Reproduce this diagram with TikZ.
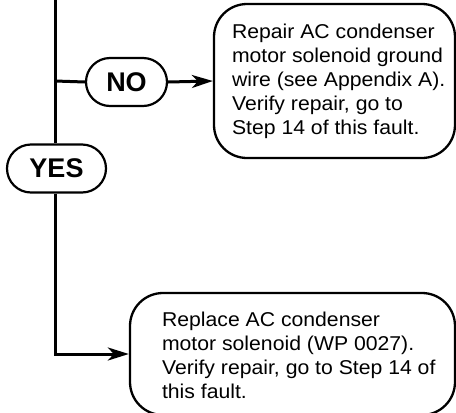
\documentclass[tikz,border=0pt]{standalone}
\usepackage{fontspec}
\setmainfont{Liberation Sans}
\newfontfamily\stepfont[FakeStretch=1.06]{Liberation Sans}
\usetikzlibrary{arrows.meta}
\tikzset{
  pill/.style={draw, line width=2.2pt, rounded corners=24pt, minimum height=48pt, inner sep=0pt, font=\fontsize{27}{30}\selectfont\bfseries},
  stepbox/.style={draw, line width=2.3pt, inner sep=0pt},
  txt/.style={align=left, inner sep=0pt, anchor=west, font=\stepfont\fontsize{20}{24}\selectfont},
  flow/.style={line width=3pt},
  arr/.style={flow, -{Stealth[length=21pt,width=13pt,inset=6pt]}}
}
\begin{document}
\begin{tikzpicture}[x=1pt,y=-1pt]
\useasboundingbox (0,0) rectangle (456,413);
\coordinate (top) at (55,0);
\coordinate (split) at (55,81);
\node[pill, minimum width=81pt] (no) at (126.5,82) {NO};
\node[pill, minimum width=99pt] (yes) at (56.5,168.5) {YES};
\node[stepbox, rounded corners=33pt, minimum width=241pt, minimum height=154pt] (b1) at (334.5,81) {};
\node[txt] (t1) at ([xshift=19pt]b1.west) {Repair AC condenser\\motor solenoid ground\\wire (see Appendix A).\\Verify repair, go to\\Step 14 of this fault.};
\node[stepbox, rounded corners=33pt, minimum width=325pt, minimum height=122pt] (b2) at (292.5,354) {};
\node[txt] (t2) at ([xshift=33pt,yshift=-1pt]b2.west) {Replace AC condenser\\motor solenoid (WP 0027).\\Verify repair, go to Step 14 of\\this fault.};
\draw[flow] (top) -- (top |- yes.north);
\draw[flow] (split) -- (no.west);
\draw[arr] (no.east) -- (b1.west);
\draw[arr] (yes.south -| top) |- (b2.west);
\end{tikzpicture}
\end{document}
